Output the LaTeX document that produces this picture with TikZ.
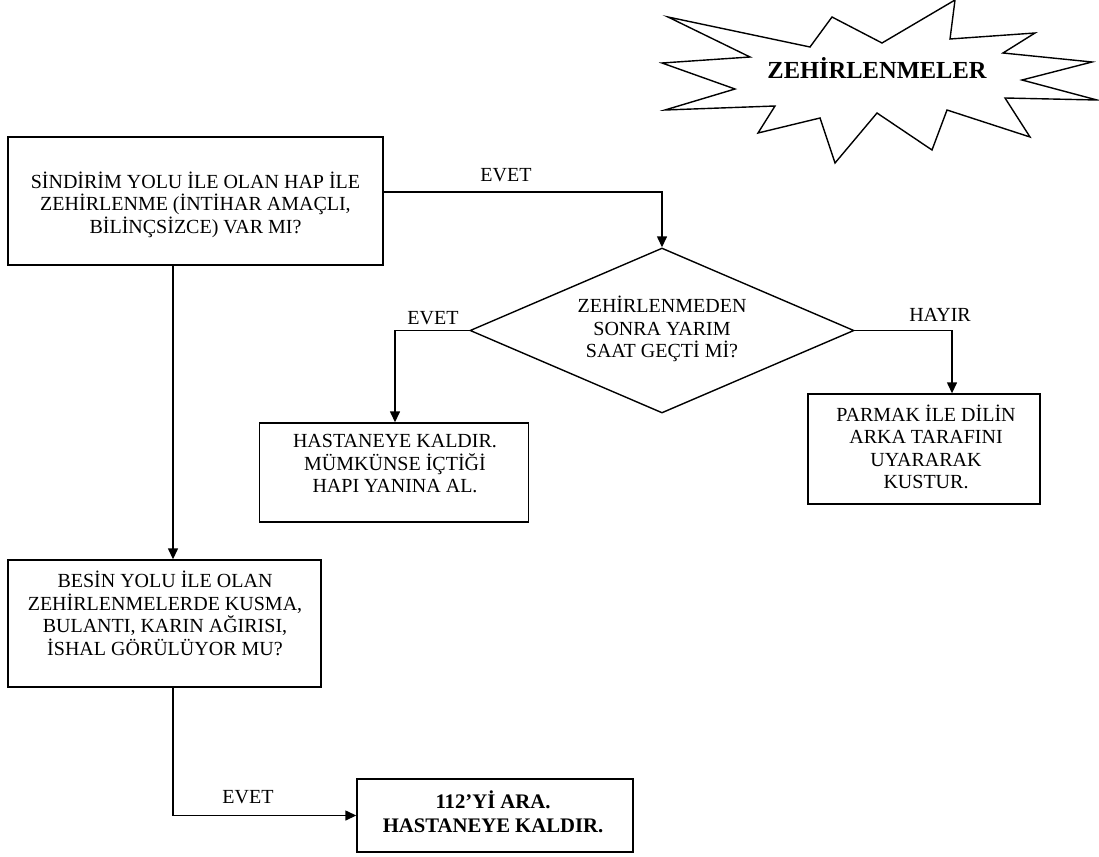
\documentclass[tikz,border=0pt]{standalone}
\usepackage{fontspec}
\setmainfont{Liberation Serif}
\usetikzlibrary{arrows.meta,shapes.geometric}
\begin{document}
\begin{tikzpicture}[x=1pt,y=-1pt,
  line width=1.4pt,
  boxnode/.style={draw, rectangle, inner sep=0pt},
  txt/.style={align=center, font=\fontsize{20}{22.5}\selectfont, inner sep=0pt},
  lbl/.style={font=\fontsize{20}{22.5}\selectfont, inner sep=0pt},
  arr/.style={-{Triangle[length=11pt,width=10pt]}}]
\useasboundingbox (0,0) rectangle (1099,856);
% star
\draw[line join=miter] (668,17) -- (810,47) -- (832,17) -- (882,43) -- (955,0) -- (950,39)
  -- (1035,33) -- (1003,53) -- (1092,62) -- (1022,80) -- (1097,100) -- (1005,98)
  -- (1030,137) -- (947,110) -- (932,150) -- (877,113) -- (835,163) -- (820,118)
  -- (758,133) -- (775,106) -- (665,110) -- (735,89) -- (662,63) -- (750,57) -- cycle;
\node[font=\bfseries\fontsize{24.5}{26}\selectfont, inner sep=0pt] (title) at (877,68) {ZEHİRLENMELER};
% boxes
\node[boxnode, minimum width=375pt, minimum height=128pt] (b1) at (195.5,201) {};
\node[txt] (t1) at (195.5,204.5) {SİNDİRİM YOLU İLE OLAN HAP İLE\\ZEHİRLENME (İNTİHAR AMAÇLI,\\BİLİNÇSİZCE) VAR MI?};
\node[draw, diamond, shape aspect=2.3, inner sep=0pt, minimum width=384pt, minimum height=165pt] (d) at (662,330.5) {};
\node[txt] (td) at (662,329) {ZEHİRLENMEDEN\\SONRA YARIM\\SAAT GEÇTİ Mİ?};
\node[boxnode, minimum width=269pt, minimum height=99pt] (h) at (394,472.5) {};
\node[txt] (th) at (395,464) {HASTANEYE KALDIR.\\MÜMKÜNSE İÇTİĞİ\\HAPI YANINA AL.};
\node[boxnode, minimum width=232pt, minimum height=110pt] (p) at (924,449) {};
\node[txt] (tp) at (926,447) {PARMAK İLE DİLİN\\ARKA TARAFINI\\UYARARAK\\KUSTUR.};
\node[boxnode, minimum width=313pt, minimum height=127pt] (b2) at (164.5,623.5) {};
\node[txt] (t2) at (165,613.5) {BESİN YOLU İLE OLAN\\ZEHİRLENMELERDE KUSMA,\\BULANTI, KARIN AĞIRISI,\\İSHAL GÖRÜLÜYOR MU?};
\node[boxnode, minimum width=276pt, minimum height=73pt] (f) at (495,815.5) {};
\node[txt, font=\bfseries\fontsize{20.7}{23.5}\selectfont] (tf) at (493,812) {112’Yİ ARA.\\HASTANEYE KALDIR.};
% connectors
\draw[arr] ([yshift=9pt]b1.east) -| (d.north);
\node[lbl] (l1) at (506,175) {EVET};
\draw[arr] (d.west) -| ([xshift=1pt]h.north);
\node[lbl] (l2) at (433,318) {EVET};
\draw[arr] (d.east) -| ([xshift=28pt]p.north);
\node[lbl] (l3) at (940,315) {HAYIR};
\draw[arr] ([xshift=-22.5pt]b1.south) -- ([xshift=-22.5pt]b1.south |- b2.north);
\draw[arr] ([xshift=8.5pt]b2.south) |- (f.west);
\node[lbl] (l4) at (248,797) {EVET};
\end{tikzpicture}
\end{document}
